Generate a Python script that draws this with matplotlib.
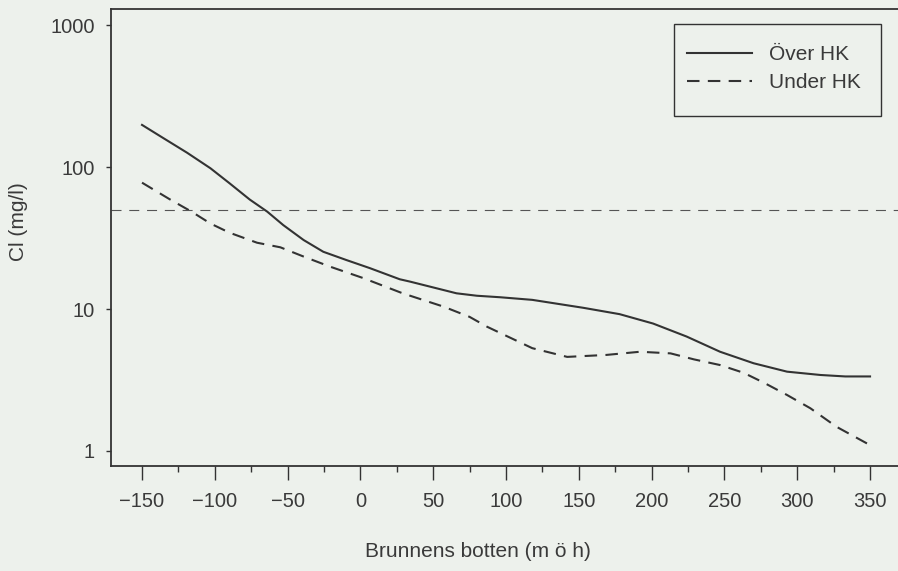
import numpy as np
import matplotlib
matplotlib.use("Agg")
import matplotlib.pyplot as plt
from matplotlib.patches import Rectangle
from matplotlib.ticker import FixedLocator, NullLocator, NullFormatter

plt.rcParams['font.family'] = ['Liberation Sans', 'DejaVu Sans']

# values
over_x = [-150, -135, -119, -103, -90, -76, -64, -53, -39, -25.5, -9.5, 6.5, 27, 34,
          66, 80, 96, 118, 153, 178, 201, 224, 247, 270, 293, 316, 333, 350]
over_y = [198, 159, 126, 98, 77, 59, 48.5, 39, 30.6, 25.3, 22.1, 19.4, 16.2, 15.6,
          12.9, 12.4, 12.1, 11.6, 10.2, 9.2, 7.9, 6.4, 5.0, 4.15, 3.62, 3.43, 3.35, 3.35]

under_x = [-150, -131, -116, -103, -90, -71, -55, -39, -21, 2, 29, 57, 75, 87, 118,
           142, 169, 192, 213, 229, 247, 263, 277, 293, 309, 327, 350]
under_y = [77.6, 59.3, 48.5, 40, 34.5, 29.3, 27.2, 23.4, 19.9, 16.5, 12.9, 10.4, 8.8,
           7.5, 5.3, 4.6, 4.75, 5.0, 4.87, 4.42, 4.03, 3.56, 3.03, 2.48, 2.0, 1.48, 1.1]

limit_value = 50
xticks = [-150, -100, -50, 0, 50, 100, 150, 200, 250, 300, 350]
yticks = [1, 10, 100, 1000]

bg = '#edf1ec'
ink = '#333333'
txt = '#3a3a3a'

fig = plt.figure(figsize=(8.98, 5.71), dpi=100, facecolor=bg)
ax = fig.add_axes([111/898, 1 - 466/571, 1 - 111/898, (466 - 9)/571])
ax.set_facecolor(bg)

ax.plot(over_x, over_y, color=ink, lw=1.5, label='Över HK')
ax.plot(under_x, under_y, color=ink, lw=1.5, dashes=(6, 4), label='Under HK')
ax.axhline(limit_value, color='#555555', lw=0.8, dashes=(9, 7))

ax.set_yscale('log')
ax.set_xlim(-171.3, 369.2)
ax.set_ylim(0.784, 1297)

ax.xaxis.set_major_locator(FixedLocator(xticks))
ax.xaxis.set_minor_locator(FixedLocator([x + 25 for x in xticks[:-1]]))
ax.yaxis.set_major_locator(FixedLocator(yticks))
ax.yaxis.set_minor_locator(NullLocator())
ax.yaxis.set_minor_formatter(NullFormatter())
ax.set_yticklabels([str(v) for v in yticks])

ax.tick_params(axis='x', which='major', length=10, width=1, pad=9, colors=ink,
               labelsize=14.5, labelcolor=txt)
ax.tick_params(axis='x', which='minor', length=4.3, width=1, colors=ink)
ax.tick_params(axis='y', which='major', length=3.6, width=1, pad=8, colors=ink,
               labelsize=14.5, labelcolor=txt)

ax.spines['right'].set_visible(False)
for s in ['left', 'top', 'bottom']:
    ax.spines[s].set_linewidth(1.3)
    ax.spines[s].set_color(ink)

ax.set_xlabel('Brunnens botten (m ö h)', fontsize=15, color=txt)
ax.set_ylabel('Cl (mg/l)', fontsize=15, color=txt)
ax.xaxis.set_label_coords(0.4657, -0.166)
ax.yaxis.set_label_coords(-0.105, 0.535)

leg = ax.legend(loc='upper left', bbox_to_anchor=(687/898, 1 - 45/571),
                bbox_transform=fig.transFigure, borderaxespad=0, borderpad=0,
                fontsize=15, handlelength=3.1, handletextpad=0.85,
                labelspacing=0.45, frameon=False)
for t in leg.get_texts():
    t.set_color(txt)

fig.add_artist(Rectangle((674/898, 1 - 116/571), 207/898, 92/571,
                         transform=fig.transFigure, fill=False,
                         edgecolor=ink, linewidth=1.0))

fig.savefig('out.png', dpi=100, facecolor=bg)
